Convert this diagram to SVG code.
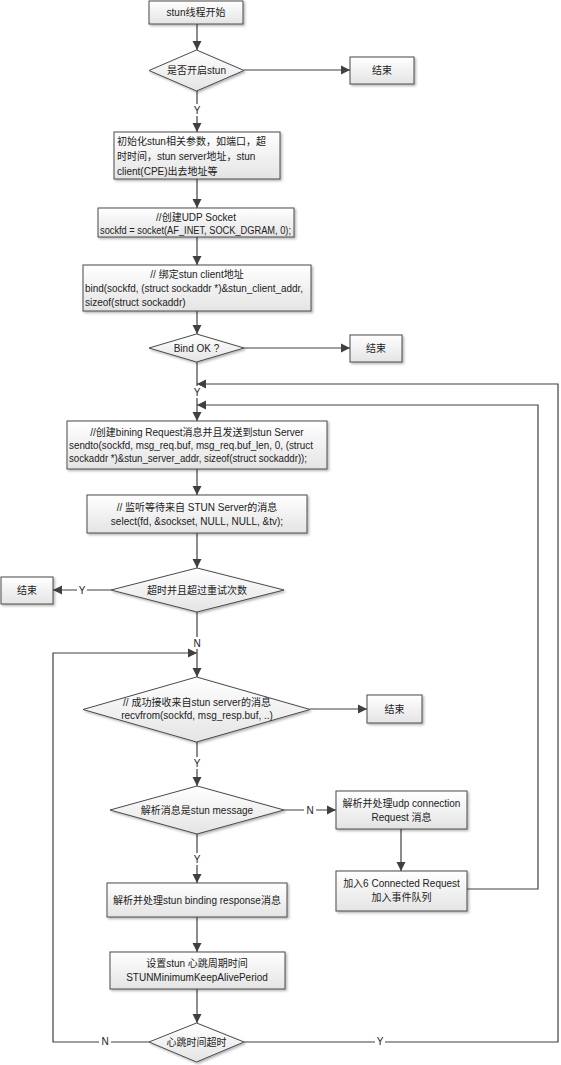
<svg xmlns="http://www.w3.org/2000/svg" width="561" height="1065" viewBox="0 0 561 1065">
<defs>
<linearGradient id="g" x1="0" y1="0" x2="0" y2="1"><stop offset="0" stop-color="#ffffff"/><stop offset="1" stop-color="#e4e4e4"/></linearGradient>
<filter id="sh" x="-10%" y="-10%" width="130%" height="140%"><feDropShadow dx="1.5" dy="1.5" stdDeviation="1" flood-color="#000" flood-opacity="0.3"/></filter>
<marker id="a" markerUnits="userSpaceOnUse" markerWidth="10" markerHeight="10" refX="9" refY="5" orient="auto"><path d="M0,0.5 L9,5 L0,9.5 Z" fill="#404040"/></marker>
</defs>
<style>
.n rect,.n polygon{fill:url(#g);stroke:#4a4a4a;stroke-width:1;filter:url(#sh)}
text{font-family:"Liberation Sans","Noto Sans CJK SC",sans-serif;font-size:10px;fill:#222}
.c{text-anchor:middle}
.e path{fill:none;stroke:#404040;stroke-width:1.2}
.e .ar{marker-end:url(#a)}
.lb rect{fill:#fff}
.lb text{text-anchor:middle}
</style>
<g id="connectors" class="e">
<path class="ar" d="M197,24 V50"/>
<path class="ar" d="M244,70 H350"/>
<path class="ar" d="M197,91 V132"/>
<path class="ar" d="M197,179 V208"/>
<path class="ar" d="M197,237 V265"/>
<path class="ar" d="M197,311 V334"/>
<path class="ar" d="M244,348 H350"/>
<path class="ar" d="M197,362 V421"/>
<path class="ar" d="M244,1042 H558 V384 H197"/>
<path class="ar" d="M467,889 H538 V405 H197"/>
<path class="ar" d="M197,469 V495"/>
<path class="ar" d="M197,533 V568"/>
<path class="ar" d="M111,590 H53"/>
<path class="ar" d="M197,612 V677"/>
<path class="ar" d="M149,1042 H53 V653 H197"/>
<path class="ar" d="M310,709 H367"/>
<path class="ar" d="M197,742 V786"/>
<path class="ar" d="M284,810 H336"/>
<path class="ar" d="M401,829 V871"/>
<path class="ar" d="M197,834 V883"/>
<path class="ar" d="M197,917 V952"/>
<path class="ar" d="M197,989 V1023"/>
<g class="lb">
<rect x="192" y="104" width="10" height="12"/><text x="197" y="114">Y</text>
<rect x="192" y="386" width="10" height="12"/><text x="197" y="396">Y</text>
<rect x="77" y="584" width="10" height="12"/><text x="82" y="594">Y</text>
<rect x="191" y="637" width="12" height="12"/><text x="197" y="647">N</text>
<rect x="192" y="757" width="10" height="12"/><text x="197" y="767">Y</text>
<rect x="304" y="804" width="12" height="12"/><text x="310" y="814">N</text>
<rect x="192" y="853" width="10" height="12"/><text x="197" y="863">Y</text>
<rect x="99" y="1036" width="12" height="12"/><text x="105" y="1045">N</text>
<rect x="375" y="1036" width="10" height="12"/><text x="380" y="1045">Y</text>
</g>
</g>
<g id="start" class="n"><rect x="149" y="1" width="94" height="23"/><text class="c" x="196" y="16">stun线程开始</text></g>
<g id="d_enable" class="n"><polygon points="149,70.5 196.5,50 244,70.5 196.5,91"/><text class="c" x="196.5" y="74">是否开启stun</text></g>
<g id="end1" class="n"><rect x="350" y="57" width="64" height="27"/><text class="c" x="382" y="74">结束</text></g>
<g id="init" class="n"><rect x="114" y="132" width="166" height="47"/>
<text x="117" y="145">初始化stun相关参数，如端口，超</text>
<text x="117" y="160">时时间，stun server地址，stun</text>
<text x="117" y="175">client(CPE)出去地址等</text></g>
<g id="socket" class="n"><rect x="98" y="208" width="196" height="29"/>
<text class="c" x="196" y="221">//创建UDP Socket</text>
<text x="100" y="234" textLength="191" lengthAdjust="spacingAndGlyphs">sockfd = socket(AF_INET, SOCK_DGRAM, 0);</text></g>
<g id="bind" class="n"><rect x="83" y="265" width="228" height="46"/>
<text class="c" x="197" y="278">// 绑定stun client地址</text>
<text x="85" y="292" textLength="218" lengthAdjust="spacingAndGlyphs">bind(sockfd, (struct sockaddr *)&amp;stun_client_addr,</text>
<text x="85" y="306">sizeof(struct sockaddr)</text></g>
<g id="d_bind" class="n"><polygon points="149,348 196.5,334 244,348 196.5,362"/><text class="c" x="196.5" y="352">Bind OK ?</text></g>
<g id="end2" class="n"><rect x="350" y="335" width="52" height="27"/><text class="c" x="376" y="352">结束</text></g>
<g id="send" class="n"><rect x="67" y="421" width="260" height="48"/>
<text class="c" x="197" y="436">//创建bining Request消息并且发送到stun Server</text>
<text x="69" y="449" textLength="244" lengthAdjust="spacingAndGlyphs">sendto(sockfd, msg_req.buf, msg_req.buf_len, 0, (struct</text>
<text x="69" y="462" textLength="238" lengthAdjust="spacingAndGlyphs">sockaddr *)&amp;stun_server_addr, sizeof(struct sockaddr));</text></g>
<g id="select" class="n"><rect x="87" y="495" width="220" height="38"/>
<text class="c" x="197" y="511">// 监听等待来自 STUN Server的消息</text>
<text class="c" x="197" y="525">select(fd, &amp;sockset, NULL, NULL, &amp;tv);</text></g>
<g id="d_timeout" class="n"><polygon points="111,590 197,568 284,590 197,612"/><text class="c" x="197" y="594">超时并且超过重试次数</text></g>
<g id="end3" class="n"><rect x="1" y="577" width="52" height="27"/><text class="c" x="27" y="594">结束</text></g>
<g id="d_recv" class="n"><polygon points="83,709.5 196.5,677 310,709.5 196.5,742"/>
<text class="c" x="197" y="706">// 成功接收来自stun server的消息</text>
<text class="c" x="197" y="719">recvfrom(sockfd, msg_resp.buf, ..)</text></g>
<g id="end4" class="n"><rect x="367" y="695" width="55" height="28"/><text class="c" x="394.5" y="713">结束</text></g>
<g id="d_msg" class="n"><polygon points="110,810 197,786 284,810 197,834"/><text class="c" x="197" y="814">解析消息是stun  message</text></g>
<g id="udp" class="n"><rect x="336" y="791" width="131" height="38"/>
<text class="c" x="401.5" y="807">解析并处理udp connection</text>
<text class="c" x="401.5" y="821">Request 消息</text></g>
<g id="queue" class="n"><rect x="336" y="871" width="131" height="40"/>
<text class="c" x="401.5" y="887">加入6 Connected Request</text>
<text class="c" x="401.5" y="901">加入事件队列</text></g>
<g id="binding" class="n"><rect x="107" y="883" width="180" height="34"/><text class="c" x="197" y="904">解析并处理stun binding response消息</text></g>
<g id="keepalive" class="n"><rect x="110" y="952" width="175" height="37"/>
<text class="c" x="197" y="967">设置stun 心跳周期时间</text>
<text class="c" x="197" y="981">STUNMinimumKeepAlivePeriod</text></g>
<g id="d_hb" class="n"><polygon points="149,1042 196.5,1023 244,1042 196.5,1062"/><text class="c" x="196.5" y="1046">心跳时间超时</text></g>
</svg>
